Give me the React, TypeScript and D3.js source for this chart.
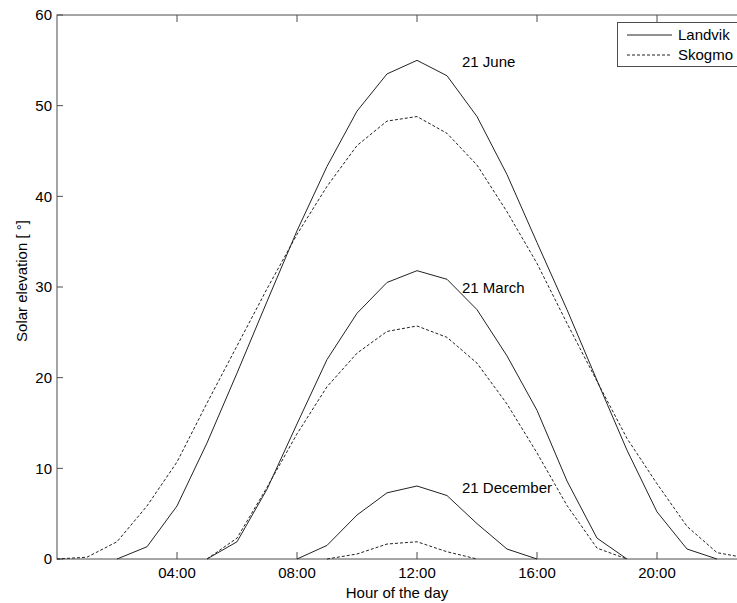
import React from "react";
import * as d3 from "d3";

const hours = d3.range(0, 24);

// Solar elevation (degrees) per hour, null = sun below horizon (not drawn)
const juneLandvik: (number | null)[] = [null, null, 0, 1.35, 5.85, 12.8, 20.5, 28.4, 36.2, 43.3, 49.4, 53.5, 55.0, 53.3, 48.8, 42.4, 34.9, 27.5, 19.7, 12.0, 5.2, 1.1, 0, null];
const juneSkogmo: (number | null)[] = [0, 0.2, 1.9, 5.85, 10.7, 17.2, 23.5, 29.8, 35.8, 41.1, 45.6, 48.3, 48.8, 46.95, 43.45, 38.3, 32.6, 26.0, 19.6, 13.3, 8.3, 3.6, 0.7, 0.1];
const marchLandvik: (number | null)[] = [null, null, null, null, null, 0, 1.9, 7.7, 14.9, 22.0, 27.1, 30.5, 31.8, 30.85, 27.5, 22.4, 16.4, 8.6, 2.3, 0, null, null, null, null];
const marchSkogmo: (number | null)[] = [null, null, null, null, null, 0, 2.3, 7.9, 13.8, 19.0, 22.7, 25.1, 25.7, 24.45, 21.6, 17.1, 11.7, 5.9, 1.2, 0, null, null, null, null];
const decLandvik: (number | null)[] = [null, null, null, null, null, null, null, null, 0, 1.5, 4.85, 7.3, 8.05, 7.0, 3.9, 1.1, 0, null, null, null, null, null, null, null];
const decSkogmo: (number | null)[] = [null, null, null, null, null, null, null, null, null, 0, 0.55, 1.65, 1.9, 0.8, 0, null, null, null, null, null, null, null, null, null];

const xTicks = [4, 8, 12, 16, 20];
const yTicks = [0, 10, 20, 30, 40, 50, 60];
const seasonLabels = [
  { text: "21 June", value: 54.9 },
  { text: "21 March", value: 29.9 },
  { text: "21 December", value: 7.9 },
];
const legendItems = [
  { name: "Landvik", dashed: false },
  { name: "Skogmo", dashed: true },
];

const W = 737;
const H = 603;
const left = 57;
const top = 15;
const bottom = 559;
const right = 777; // plot continues past the visible edge (24:00)

const FONT = "'Liberation Sans', Arial, Helvetica, sans-serif";
const FS = 15;

export default function App() {
  const x = d3.scaleLinear().domain([0, 24]).range([left, right]);
  const y = d3.scaleLinear().domain([0, 60]).range([bottom, top]);

  const line = d3
    .line<number | null>()
    .defined((d) => d !== null)
    .x((_, i) => x(hours[i]))
    .y((d) => y(d as number));

  const series = [
    { data: juneLandvik, dashed: false },
    { data: juneSkogmo, dashed: true },
    { data: marchLandvik, dashed: false },
    { data: marchSkogmo, dashed: true },
    { data: decLandvik, dashed: false },
    { data: decSkogmo, dashed: true },
  ];

  const fmt = (h: number) => `${String(h).padStart(2, "0")}:00`;
  const axisColor = "#4d4d4d";

  return (
    <svg
      width={W}
      height={H}
      style={{ position: "absolute", left: 0, top: 0, background: "#fff" }}
      fontFamily={FONT}
    >
      <rect x={0} y={0} width={W} height={H} fill="#fff" />
      <defs>
        <clipPath id="plotclip">
          <rect x={left} y={top - 1} width={right - left} height={bottom - top + 2} />
        </clipPath>
      </defs>

      {/* frame */}
      <rect x={left} y={top} width={right - left} height={bottom - top} fill="none" stroke={axisColor} strokeWidth={1} />

      {/* x ticks */}
      {xTicks.map((t) => (
        <g key={"xt" + t}>
          <line x1={x(t)} x2={x(t)} y1={bottom} y2={bottom - 7} stroke={axisColor} />
          <line x1={x(t)} x2={x(t)} y1={top} y2={top + 7} stroke={axisColor} />
          <text x={x(t)} y={bottom + 19} textAnchor="middle" fontSize={FS} fill="#000">
            {fmt(t)}
          </text>
        </g>
      ))}

      {/* y ticks */}
      {yTicks.map((t) => (
        <g key={"yt" + t}>
          <line x1={left} x2={left + 6} y1={y(t)} y2={y(t)} stroke={axisColor} />
          <text x={left - 5} y={y(t)} dy="0.36em" textAnchor="end" fontSize={FS} fill="#000">
            {t}
          </text>
        </g>
      ))}

      {/* series */}
      <g clipPath="url(#plotclip)">
        {series.map((s, i) => (
          <path
            key={i}
            d={line(s.data) || ""}
            fill="none"
            stroke="#222"
            strokeWidth={1}
            strokeDasharray={s.dashed ? "3,2" : undefined}
          />
        ))}
      </g>

      {/* season labels */}
      {seasonLabels.map((l) => (
        <text key={l.text} x={x(13.5)} y={y(l.value)} dy="0.36em" fontSize={FS} fill="#000">
          {l.text}
        </text>
      ))}

      {/* legend */}
      <g>
        <rect x={617.5} y={22.5} width={140} height={44} fill="#fff" stroke={axisColor} />
        {legendItems.map((it, i) => (
          <g key={it.name}>
            <line
              x1={627}
              x2={672}
              y1={35 + i * 20}
              y2={35 + i * 20}
              stroke="#222"
              strokeDasharray={it.dashed ? "3,2" : undefined}
            />
            <text x={678} y={35 + i * 20} dy="0.36em" fontSize={FS} fill="#000">
              {it.name}
            </text>
          </g>
        ))}
      </g>

      {/* axis titles */}
      <text x={397} y={598} textAnchor="middle" fontSize={FS} fill="#000">
        Hour of the day
      </text>
      <text
        transform={`translate(${27},${281}) rotate(-90)`}
        textAnchor="middle"
        fontSize={FS}
        fill="#000"
      >
        Solar elevation [ °]
      </text>
    </svg>
  );
}
